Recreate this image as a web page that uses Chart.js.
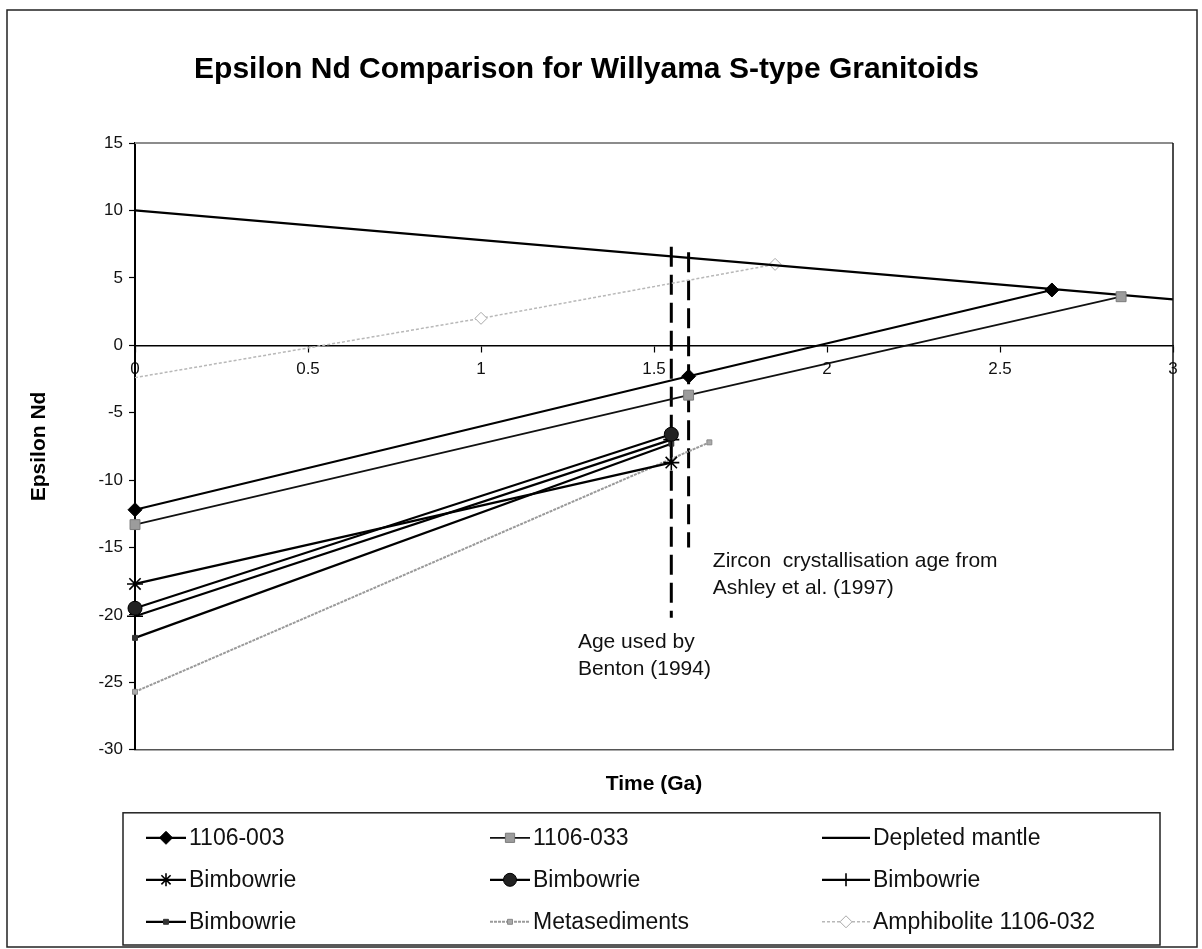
<!DOCTYPE html>
<html>
<head>
<meta charset="utf-8">
<title>Epsilon Nd Comparison for Willyama S-type Granitoids</title>
<script src="https://cdn.jsdelivr.net/npm/chart.js@4.4.0/dist/chart.umd.min.js"></script>
<style>
  html, body { margin: 0; padding: 0; background: #fff; }
  #wrap { width: 1202px; height: 949px; }
</style>
</head>
<body>
<div id="wrap"><canvas id="chart" width="1202" height="949"></canvas></div>
<script>
// values (time in Ga, epsilon Nd)
const t003 = [0, 1.60, 2.65];
const e003 = [-12.2, -2.3, 4.1];
const t033 = [0, 1.60, 2.85];
const e033 = [-13.3, -3.7, 3.6];
const tMantle = [0, 3];
const eMantle = [10, 3.4];
const tBimStar = [0, 1.55];
const eBimStar = [-17.7, -8.7];
const tBimCircle = [0, 1.55];
const eBimCircle = [-19.5, -6.6];
const tBimPlus = [0, 1.55];
const eBimPlus = [-20.1, -7.0];
const tBimDash = [0, 1.55];
const eBimDash = [-21.7, -7.3];
const tMeta = [0, 1.66];
const eMeta = [-25.7, -7.2];
const tAmph = [0, 1, 1.85];
const eAmph = [-2.4, 2.0, 6.0];

// the two age markers (dashed verticals)
const tBenton = [1.55, 1.55];
const eBenton = [7.3, -20.2];
const tAshley = [1.60, 1.60];
const eAshley = [6.9, -15.0];

const xTicks = [0, 0.5, 1, 1.5, 2, 2.5, 3];
const xTickLabels = ["0", "0.5", "1", "1.5", "2", "2.5", "3"];
const yTicks = [-30, -25, -20, -15, -10, -5, 0, 5, 10, 15];
const yTickLabels = ["-30", "-25", "-20", "-15", "-10", "-5", "0", "5", "10", "15"];

const seriesNames = ["1106-003", "1106-033", "Depleted mantle", "Bimbowrie", "Bimbowrie",
  "Bimbowrie", "Bimbowrie", "Metasediments", "Amphibolite 1106-032"];

// notes: anchor in data units, then the lines of text
const notes = [
  { x: 1.67, y: -16.0, lines: ["Zircon  crystallisation age from", "Ashley et al. (1997)"] },
  { x: 1.28, y: -22.0, lines: ["Age used by", "Benton (1994)"] }
];

const FONT = "'Liberation Sans', Arial, Helvetica, sans-serif";

function pts(xs, ys) {
  return xs.map((x, i) => ({ x: x, y: ys[i] }));
}

function series(name, xs, ys, style) {
  return Object.assign({
    label: name,
    data: pts(xs, ys),
    showLine: true,
    clip: false,
    borderColor: "#000",
    borderWidth: 2.2,
    pointRadius: 0,
    pointBorderWidth: 1,
    tension: 0,
    inLegend: true
  }, style);
}

const datasets = [
  series(seriesNames[0], t003, e003, { pointStyle: "rectRot", pointRadius: 7, pointBackgroundColor: "#000", pointBorderColor: "#000" }),
  series(seriesNames[1], t033, e033, { borderColor: "#111", borderWidth: 1.8, pointStyle: "rect", pointRadius: 7, pointBackgroundColor: "#9c9c9c", pointBorderColor: "#7a7a7a" }),
  series(seriesNames[2], tMantle, eMantle, {}),
  series(seriesNames[3], tBimStar, eBimStar, { pointStyle: "star", pointRadius: 8, pointBorderWidth: 1.6, pointBorderColor: "#000", pointBackgroundColor: "#000" }),
  series(seriesNames[4], tBimCircle, eBimCircle, { pointStyle: "circle", pointRadius: 7, pointBackgroundColor: "#222", pointBorderColor: "#000" }),
  series(seriesNames[5], tBimPlus, eBimPlus, { pointStyle: "cross", pointRadius: 8, pointBorderWidth: 1.6, pointBorderColor: "#000" }),
  series(seriesNames[6], tBimDash, eBimDash, { pointStyle: "rect", pointRadius: 3.5, pointBackgroundColor: "#333", pointBorderColor: "#333" }),
  series(seriesNames[7], tMeta, eMeta, { borderColor: "#9a9a9a", borderWidth: 2, borderDash: [3, 1], pointStyle: "rect", pointRadius: 3.5, pointBackgroundColor: "#aaa", pointBorderColor: "#888" }),
  series(seriesNames[8], tAmph, eAmph, { borderColor: "#b8b8b8", borderWidth: 1.5, borderDash: [3, 2], pointStyle: "rectRot", pointRadius: [0, 6, 6], legendRadius: 6, pointBackgroundColor: "#fff", pointBorderColor: "#aaa" }),
  series("Benton age", tBenton, eBenton, { borderWidth: 3, borderDash: [20, 8], inLegend: false }),
  series("Ashley age", tAshley, eAshley, { borderWidth: 3, borderDash: [20, 8], inLegend: false })
];

// white background, outer frame, top/right plot border
const framePlugin = {
  id: "frame",
  beforeDraw(chart) {
    const ctx = chart.ctx;
    ctx.save();
    ctx.fillStyle = "#fff";
    ctx.fillRect(0, 0, chart.width, chart.height);
    ctx.restore();
  },
  afterDraw(chart) {
    const ctx = chart.ctx;
    const a = chart.chartArea;
    const y = chart.scales.y;
    ctx.save();
    ctx.strokeStyle = "#222";
    ctx.lineWidth = 1.5;
    ctx.strokeRect(7, 10, chart.width - 12, chart.height - 12);
    ctx.beginPath();
    ctx.strokeStyle = "#8c8c8c";
    ctx.lineWidth = 2;
    ctx.moveTo(a.left, y.getPixelForValue(15));
    ctx.lineTo(a.right, y.getPixelForValue(15));
    ctx.stroke();
    ctx.beginPath();
    ctx.strokeStyle = "#111";
    ctx.lineWidth = 1.5;
    ctx.moveTo(a.right, a.top);
    ctx.lineTo(a.right, a.bottom);
    ctx.stroke();
    ctx.restore();
  }
};

// free text notes beside the dashed lines
const notesPlugin = {
  id: "notes",
  afterDatasetsDraw(chart) {
    const ctx = chart.ctx;
    const xs = chart.scales.x, ys = chart.scales.y;
    ctx.save();
    ctx.fillStyle = "#111";
    ctx.font = "21px " + FONT;
    ctx.textBaseline = "middle";
    notes.forEach(n => {
      const px = xs.getPixelForValue(n.x);
      const py = ys.getPixelForValue(n.y);
      n.lines.forEach((s, i) => ctx.fillText(s, px, py + i * 27));
    });
    ctx.restore();
  }
};

// boxed legend, three columns, line + marker samples
const legendPlugin = {
  id: "boxLegend",
  afterDraw(chart) {
    const ctx = chart.ctx;
    const a = chart.chartArea;
    const box = { left: a.left - 12, top: a.bottom + 63, right: a.right - 13, bottom: chart.height - 4 };
    const colX = [box.left + 23, box.left + 367, box.left + 699];
    const rowY = [box.top + 25, box.top + 67, box.top + 109];
    ctx.save();
    ctx.strokeStyle = "#222";
    ctx.lineWidth = 1.5;
    ctx.strokeRect(box.left, box.top, box.right - box.left, box.bottom - box.top);
    let k = 0;
    chart.data.datasets.forEach(ds => {
      if (!ds.inLegend) return;
      const x = colX[k % 3], y = rowY[Math.floor(k / 3)];
      const w = k % 3 === 2 ? 48 : 40;
      const r = ds.legendRadius || ds.pointRadius;
      ctx.beginPath();
      ctx.strokeStyle = ds.borderColor;
      ctx.lineWidth = ds.borderWidth;
      ctx.setLineDash(ds.borderDash || []);
      ctx.moveTo(x, y);
      ctx.lineTo(x + w, y);
      ctx.stroke();
      ctx.setLineDash([]);
      if (r > 0) {
        ctx.fillStyle = ds.pointBackgroundColor || "#000";
        ctx.strokeStyle = ds.pointBorderColor || "#000";
        ctx.lineWidth = ds.pointBorderWidth;
        Chart.helpers.drawPoint(ctx, {
          pointStyle: ds.pointStyle,
          radius: Math.min(r, 6.5),
          rotation: 0,
          borderWidth: ds.pointBorderWidth
        }, x + w / 2, y);
      }
      ctx.fillStyle = "#111";
      ctx.font = "23px " + FONT;
      ctx.textBaseline = "middle";
      ctx.fillText(ds.label, x + w + 3, y + 1);
      k++;
    });
    ctx.restore();
  }
};

new Chart(document.getElementById("chart"), {
  type: "scatter",
  data: { datasets: datasets },
  options: {
    responsive: false,
    animation: false,
    layout: { padding: { left: 0, right: 29, top: 0, bottom: 152 } },
    plugins: {
      legend: { display: false },
      tooltip: { enabled: false },
      title: {
        display: true,
        text: "Epsilon Nd Comparison for Willyama S-type Granitoids",
        color: "#000",
        font: { family: FONT, size: 30, weight: "bold" },
        padding: { top: 52, bottom: 55 }
      }
    },
    scales: {
      x: {
        type: "linear",
        position: "bottom",
        min: 0,
        max: 3,
        grid: { display: false, drawTicks: false },
        border: { display: true, color: "#555", width: 1.5 },
        ticks: { display: false },
        title: {
          display: true,
          text: "Time (Ga)",
          color: "#000",
          font: { family: FONT, size: 21, weight: "bold" },
          padding: { top: 22, bottom: 0 }
        }
      },
      x0: {
        type: "linear",
        position: { y: 0 },
        min: 0,
        max: 3,
        afterBuildTicks: s => { s.ticks = xTicks.map(v => ({ value: v })); },
        grid: { drawOnChartArea: false, tickLength: 6, color: "#000", tickWidth: 1.2 },
        border: { display: true, color: "#000", width: 1.5 },
        ticks: {
          color: "#111",
          padding: 8,
          maxRotation: 0,
          font: { family: FONT, size: 17 },
          callback: (v, i) => xTickLabels[i]
        }
      },
      y: {
        type: "linear",
        position: "left",
        min: -30,
        max: 15,
        afterBuildTicks: s => { s.ticks = yTicks.map(v => ({ value: v })); },
        afterFit: s => { s.width = 135; },
        grid: { drawOnChartArea: false, tickLength: 6, color: "#000", tickWidth: 1.2 },
        border: { display: true, color: "#000", width: 2 },
        ticks: {
          color: "#111",
          padding: 6,
          font: { family: FONT, size: 17 },
          callback: (v, i) => yTickLabels[i]
        },
        title: {
          display: true,
          text: "Epsilon Nd",
          color: "#000",
          font: { family: FONT, size: 21, weight: "bold" },
          padding: { top: 27, bottom: 0 }
        }
      }
    }
  },
  plugins: [framePlugin, notesPlugin, legendPlugin]
});
</script>
</body>
</html>
